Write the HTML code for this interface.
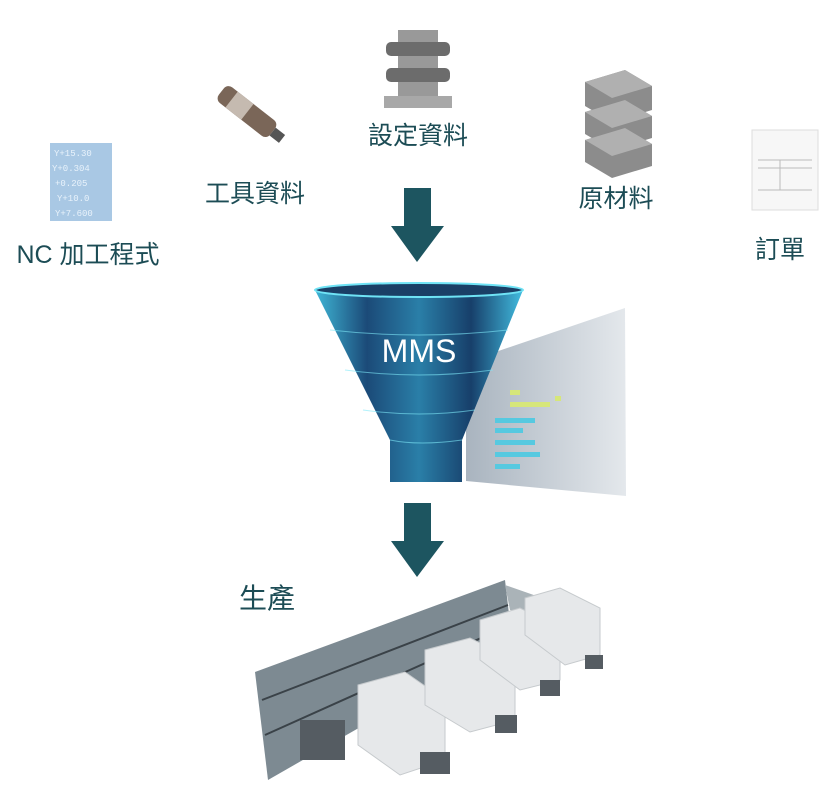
<!DOCTYPE html>
<html><head><meta charset="utf-8"><style>
body{margin:0;width:831px;height:797px;background:#fff;position:relative;overflow:hidden;font-family:"Liberation Sans","Noto Sans CJK TC",sans-serif;}
.t{position:absolute;color:#1c4c55;font-size:25px;white-space:nowrap;transform:translateX(-50%);line-height:1;}
svg{position:absolute;left:0;top:0}
</style></head><body>
<svg width="831" height="797" viewBox="0 0 831 797">
<defs>
<linearGradient id="fun" x1="0" x2="1" y1="0" y2="0">
<stop offset="0" stop-color="#3fb6d6"/><stop offset="0.25" stop-color="#1b4a78"/><stop offset="0.5" stop-color="#2a7fa8"/><stop offset="0.75" stop-color="#173f6a"/><stop offset="1" stop-color="#42bde0"/></linearGradient>
<linearGradient id="scr" x1="0" x2="1"><stop offset="0" stop-color="#a9b4bf"/><stop offset="1" stop-color="#e4e8ec"/></linearGradient>
</defs>
<!-- NC program -->
<rect x="50" y="143" width="62" height="78" fill="#a9c8e4"/>
<g fill="#e8f2fb" font-family="Liberation Mono" font-size="9"><text x="54" y="156">Y+15.30</text><text x="52" y="171">Y+0.304</text><text x="55" y="186">+0.205</text><text x="57" y="201">Y+10.0</text><text x="55" y="216">Y+7.600</text></g>
<!-- tool -->
<g transform="rotate(38 245 110)"><rect x="215" y="100" width="65" height="20" rx="6" fill="#7a6658"/><rect x="228" y="100" width="20" height="20" fill="#c5bab0"/><rect x="280" y="105" width="12" height="10" fill="#555"/></g>
<!-- fixture -->
<rect x="398" y="30" width="40" height="72" fill="#999"/>
<rect x="386" y="42" width="64" height="14" rx="5" fill="#6c6c6c"/><rect x="386" y="68" width="64" height="14" rx="5" fill="#6c6c6c"/>
<rect x="384" y="96" width="68" height="12" fill="#a8a8a8"/>
<!-- material -->
<g fill="#8c8c8c"><polygon points="585,82 625,70 652,86 652,110 612,122 585,106"/><polygon points="585,112 625,100 652,116 652,138 612,150 585,134"/><polygon points="585,140 625,128 652,144 652,166 612,178 585,162"/></g>
<g fill="#b0b0b0"><polygon points="585,82 625,70 652,86 612,98"/><polygon points="585,112 625,100 652,116 612,128"/><polygon points="585,140 625,128 652,144 612,156"/></g>
<!-- order -->
<rect x="752" y="130" width="66" height="80" fill="#f7f7f7" stroke="#ddd"/>
<g stroke="#bbb" stroke-width="1"><line x1="758" y1="160" x2="812" y2="160"/><line x1="758" y1="168" x2="812" y2="168"/><line x1="758" y1="190" x2="812" y2="190"/><line x1="780" y1="160" x2="780" y2="190"/></g>
<!-- arrows -->
<g fill="#1d5560"><rect x="404" y="188" width="27" height="40"/><polygon points="391,226 444,226 417,262"/>
<rect x="404" y="503" width="27" height="40"/><polygon points="391,541 444,541 417,577"/></g>
<!-- screen -->
<polygon points="466,362 625,308 626,496 466,481" fill="url(#scr)"/>
<g fill="#56c9e0"><rect x="495" y="418" width="40" height="5"/><rect x="495" y="428" width="28" height="5"/><rect x="495" y="440" width="40" height="5"/><rect x="495" y="452" width="45" height="5"/><rect x="495" y="464" width="25" height="5"/></g>
<g fill="#d6e67a"><rect x="510" y="390" width="10" height="5"/><rect x="510" y="402" width="40" height="5"/><rect x="555" y="396" width="6" height="5"/></g>
<!-- funnel -->
<polygon points="315,290 523,290 462,440 462,482 390,482 390,440" fill="url(#fun)"/>
<ellipse cx="419" cy="290" rx="104" ry="7" fill="#1a3f66" stroke="#6fe3f5" stroke-width="2"/>
<g stroke="#7fe8f8" stroke-width="1" fill="none" opacity=".6"><path d="M330 330 Q419 340 508 330"/><path d="M345 370 Q419 380 493 370"/><path d="M363 410 Q419 418 475 410"/><path d="M390 440 Q419 446 462 440"/></g>
<text x="419" y="362" fill="#fff" font-size="32" text-anchor="middle" font-family="Liberation Sans">MMS</text>
<!-- factory -->
<polygon points="255,672 505,580 512,640 268,780" fill="#7d8a92"/>
<g stroke="#3a4248" stroke-width="2"><line x1="262" y1="700" x2="508" y2="605"/><line x1="265" y1="735" x2="510" y2="625"/></g>
<polygon points="505,585 548,600 548,620 510,610" fill="#aab3b8"/>
<g fill="#e6e8ea" stroke="#c6cacd"><polygon points="358,685 405,672 445,700 445,760 400,775 358,745"/><polygon points="425,650 470,638 515,660 515,720 470,732 425,705"/><polygon points="480,620 520,608 560,628 560,680 520,690 480,660"/><polygon points="525,598 560,588 600,608 600,655 565,665 525,635"/></g>
<g fill="#555c62"><rect x="420" y="752" width="30" height="22"/><rect x="495" y="715" width="22" height="18"/><rect x="540" y="680" width="20" height="16"/><rect x="585" y="655" width="18" height="14"/><rect x="300" y="720" width="45" height="40"/></g>
</svg>
<div class="t" style="left:88px;top:243px">NC 加工程式</div>
<div class="t" style="left:255px;top:182px">工具資料</div>
<div class="t" style="left:418px;top:124px">設定資料</div>
<div class="t" style="left:616px;top:187px">原材料</div>
<div class="t" style="left:780px;top:238px">訂單</div>
<div class="t" style="left:267px;top:585px;font-size:28px">生產</div>
</body></html>
